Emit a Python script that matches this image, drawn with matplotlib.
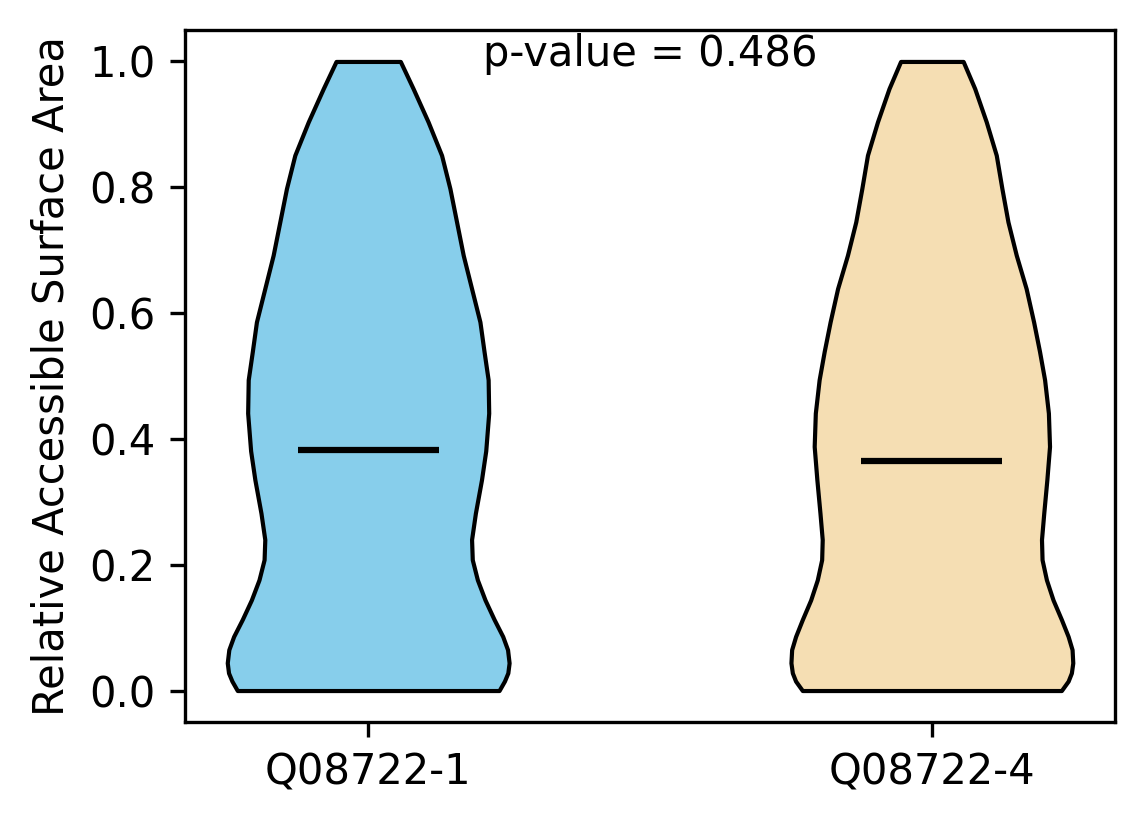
import numpy as np
import matplotlib
matplotlib.use('Agg')
import matplotlib.pyplot as plt

# 读图得到的数据 (relative ASA 的密度轮廓)
labels = ['Q08722-1', 'Q08722-4']
colors = ['skyblue', 'wheat']
p_value = 0.486

iso1_y = [0.000, 0.015, 0.028, 0.044, 0.065, 0.086, 0.113, 0.144, 0.176, 0.208, 0.240, 0.282,
          0.335, 0.381, 0.441, 0.494, 0.539, 0.586, 0.639, 0.692, 0.745, 0.798, 0.851, 0.904,
          0.957, 1.000]
iso1_density = [0.924, 0.962, 0.986, 0.995, 0.984, 0.950, 0.889, 0.825, 0.771, 0.735, 0.730, 0.757,
                0.800, 0.830, 0.851, 0.847, 0.818, 0.789, 0.730, 0.671, 0.624, 0.577, 0.518, 0.423,
                0.317, 0.227]
iso1_mean = 0.382

iso4_y = [0.000, 0.015, 0.028, 0.044, 0.065, 0.086, 0.113, 0.144, 0.176, 0.208, 0.240, 0.282,
          0.335, 0.388, 0.441, 0.494, 0.539, 0.586, 0.639, 0.692, 0.745, 0.798, 0.851, 0.904,
          0.957, 1.000]
iso4_density = [0.919, 0.967, 0.990, 1.000, 0.995, 0.967, 0.919, 0.860, 0.813, 0.782, 0.778, 0.794,
                0.816, 0.835, 0.827, 0.800, 0.764, 0.722, 0.669, 0.599, 0.540, 0.497, 0.457, 0.386,
                0.304, 0.222]
iso4_mean = 0.365


def stats(y, d, mean):
    y = np.array(y)
    return {'coords': y, 'vals': np.array(d), 'mean': mean,
            'median': mean, 'min': y.min(), 'max': y.max()}


vpstats = [stats(iso1_y, iso1_density, iso1_mean),
           stats(iso4_y, iso4_density, iso4_mean)]

fig = plt.figure(figsize=(1144/300, 824/300), dpi=300)
ax = fig.add_subplot(111)
fig.subplots_adjust(left=0.1617, right=0.9747, top=0.9636, bottom=0.1238)

parts = ax.violin(vpstats, positions=[1, 2], widths=0.5, showmeans=True, showextrema=False)
for body, c in zip(parts['bodies'], colors):
    body.set_facecolor(c)
    body.set_edgecolor('black')
    body.set_linewidth(1)
    body.set_alpha(1)
parts['cmeans'].set_color('black')
parts['cmeans'].set_linewidth(1.5)

ax.set_xticks([1, 2])
ax.set_xticklabels(labels)
ax.set_ylabel('Relative Accessible Surface Area')
ax.text(1.5, 0.993, f'p-value = {p_value:.3f}', ha='center', va='baseline')

plt.savefig('out.png', dpi=300)
